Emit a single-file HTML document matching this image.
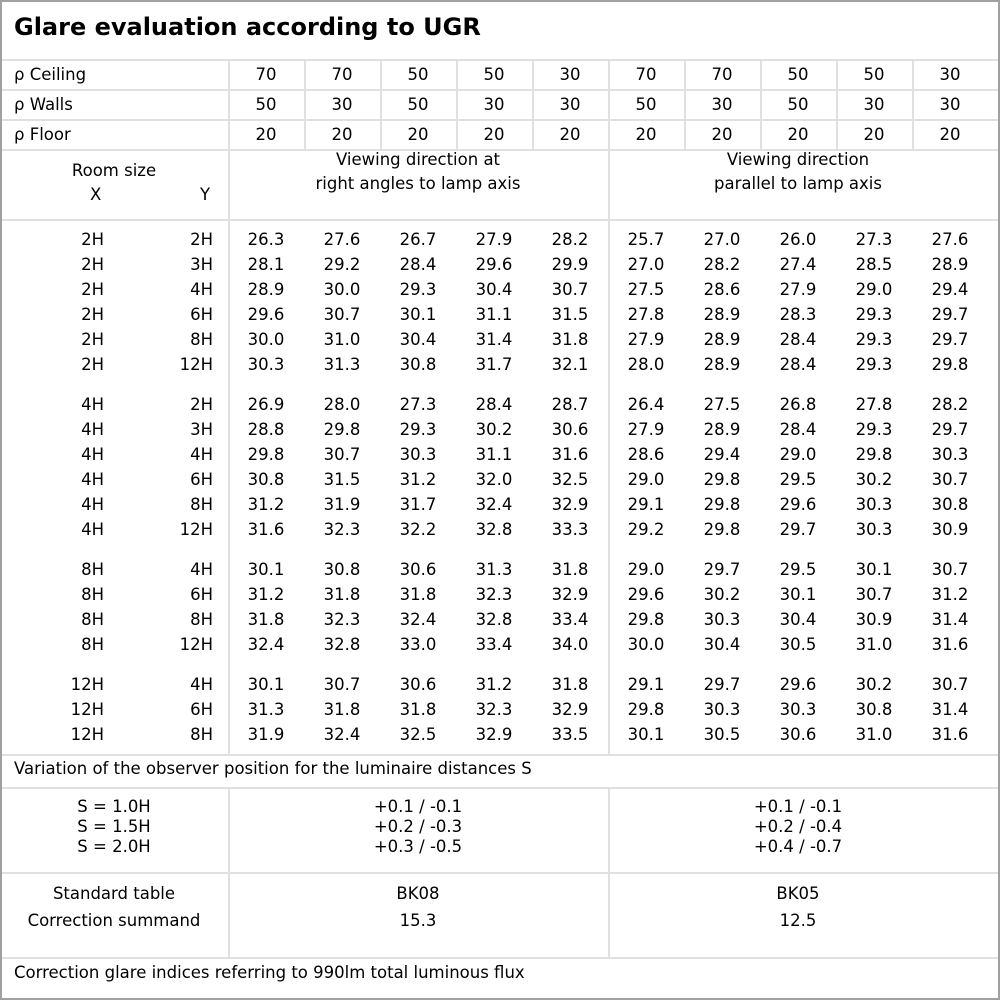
<!DOCTYPE html>
<html><head><meta charset="utf-8"><style>
*{margin:0;padding:0;box-sizing:border-box}
body{width:1000px;height:1000px;background:#fff;position:relative;overflow:hidden;font-family:"DejaVu Sans","Liberation Sans",sans-serif;font-size:16.5px;color:#000}
.a{position:absolute}
.h{position:absolute;height:2px;background:#e0e0e0}
.v{position:absolute;width:2px;background:#e0e0e0}
.r{position:absolute;left:0;height:25px;line-height:25px;white-space:nowrap;display:flex}
.r span{display:inline-block;text-align:center;width:76px}
.r .x{width:104px;text-align:right}
.r .y{width:109px;text-align:right;margin-right:15px}
.r .l{width:228px;text-align:left;padding-left:14px}
.c{position:absolute;text-align:center;line-height:20px}
</style></head><body>
<div class="a" style="left:0;top:0;width:1000px;height:1000px;border:2px solid #a0a0a0;border-right-width:2px"></div>
<div class="a" style="left:14px;top:13px;font-size:24px;font-weight:bold">Glare evaluation according to UGR</div>
<div class="h" style="left:2px;top:59px;width:996px"></div>
<div class="h" style="left:2px;top:89px;width:996px"></div>
<div class="h" style="left:2px;top:119px;width:996px"></div>
<div class="h" style="left:2px;top:149px;width:996px"></div>
<div class="h" style="left:2px;top:219px;width:996px"></div>
<div class="h" style="left:2px;top:754px;width:996px"></div>
<div class="h" style="left:2px;top:787px;width:996px"></div>
<div class="h" style="left:2px;top:872px;width:996px"></div>
<div class="h" style="left:2px;top:957px;width:996px"></div>
<div class="v" style="left:228px;top:60px;height:694px"></div>
<div class="v" style="left:608px;top:60px;height:694px"></div>
<div class="v" style="left:304px;top:60px;height:90px"></div>
<div class="v" style="left:380px;top:60px;height:90px"></div>
<div class="v" style="left:456px;top:60px;height:90px"></div>
<div class="v" style="left:532px;top:60px;height:90px"></div>
<div class="v" style="left:684px;top:60px;height:90px"></div>
<div class="v" style="left:760px;top:60px;height:90px"></div>
<div class="v" style="left:836px;top:60px;height:90px"></div>
<div class="v" style="left:912px;top:60px;height:90px"></div>
<div class="v" style="left:228px;top:788px;height:170px"></div>
<div class="v" style="left:608px;top:788px;height:170px"></div>

<div class="r" style="top:62px"><span class="l">ρ Ceiling</span><span>70</span><span>70</span><span>50</span><span>50</span><span>30</span><span>70</span><span>70</span><span>50</span><span>50</span><span>30</span></div>
<div class="r" style="top:92px"><span class="l">ρ Walls</span><span>50</span><span>30</span><span>50</span><span>30</span><span>30</span><span>50</span><span>30</span><span>50</span><span>30</span><span>30</span></div>
<div class="r" style="top:122px"><span class="l">ρ Floor</span><span>20</span><span>20</span><span>20</span><span>20</span><span>20</span><span>20</span><span>20</span><span>20</span><span>20</span><span>20</span></div>

<div class="c" style="left:0;width:228px;top:159px;line-height:24px">Room size</div>
<div class="a" style="left:90px;top:183px;line-height:24px">X</div>
<div class="a" style="left:200px;top:183px;line-height:24px">Y</div>
<div class="c" style="left:228px;width:380px;top:147px;line-height:24px;padding-top:1px">Viewing direction at<br>right angles to lamp axis</div>
<div class="c" style="left:608px;width:380px;top:147px;line-height:24px;padding-top:1px">Viewing direction<br>parallel to lamp axis</div>

<div class="r" style="top:227px"><span class="x">2H</span><span class="y">2H</span><span>26.3</span><span>27.6</span><span>26.7</span><span>27.9</span><span>28.2</span><span>25.7</span><span>27.0</span><span>26.0</span><span>27.3</span><span>27.6</span></div>
<div class="r" style="top:252px"><span class="x">2H</span><span class="y">3H</span><span>28.1</span><span>29.2</span><span>28.4</span><span>29.6</span><span>29.9</span><span>27.0</span><span>28.2</span><span>27.4</span><span>28.5</span><span>28.9</span></div>
<div class="r" style="top:277px"><span class="x">2H</span><span class="y">4H</span><span>28.9</span><span>30.0</span><span>29.3</span><span>30.4</span><span>30.7</span><span>27.5</span><span>28.6</span><span>27.9</span><span>29.0</span><span>29.4</span></div>
<div class="r" style="top:302px"><span class="x">2H</span><span class="y">6H</span><span>29.6</span><span>30.7</span><span>30.1</span><span>31.1</span><span>31.5</span><span>27.8</span><span>28.9</span><span>28.3</span><span>29.3</span><span>29.7</span></div>
<div class="r" style="top:327px"><span class="x">2H</span><span class="y">8H</span><span>30.0</span><span>31.0</span><span>30.4</span><span>31.4</span><span>31.8</span><span>27.9</span><span>28.9</span><span>28.4</span><span>29.3</span><span>29.7</span></div>
<div class="r" style="top:352px"><span class="x">2H</span><span class="y">12H</span><span>30.3</span><span>31.3</span><span>30.8</span><span>31.7</span><span>32.1</span><span>28.0</span><span>28.9</span><span>28.4</span><span>29.3</span><span>29.8</span></div>

<div class="r" style="top:392px"><span class="x">4H</span><span class="y">2H</span><span>26.9</span><span>28.0</span><span>27.3</span><span>28.4</span><span>28.7</span><span>26.4</span><span>27.5</span><span>26.8</span><span>27.8</span><span>28.2</span></div>
<div class="r" style="top:417px"><span class="x">4H</span><span class="y">3H</span><span>28.8</span><span>29.8</span><span>29.3</span><span>30.2</span><span>30.6</span><span>27.9</span><span>28.9</span><span>28.4</span><span>29.3</span><span>29.7</span></div>
<div class="r" style="top:442px"><span class="x">4H</span><span class="y">4H</span><span>29.8</span><span>30.7</span><span>30.3</span><span>31.1</span><span>31.6</span><span>28.6</span><span>29.4</span><span>29.0</span><span>29.8</span><span>30.3</span></div>
<div class="r" style="top:467px"><span class="x">4H</span><span class="y">6H</span><span>30.8</span><span>31.5</span><span>31.2</span><span>32.0</span><span>32.5</span><span>29.0</span><span>29.8</span><span>29.5</span><span>30.2</span><span>30.7</span></div>
<div class="r" style="top:492px"><span class="x">4H</span><span class="y">8H</span><span>31.2</span><span>31.9</span><span>31.7</span><span>32.4</span><span>32.9</span><span>29.1</span><span>29.8</span><span>29.6</span><span>30.3</span><span>30.8</span></div>
<div class="r" style="top:517px"><span class="x">4H</span><span class="y">12H</span><span>31.6</span><span>32.3</span><span>32.2</span><span>32.8</span><span>33.3</span><span>29.2</span><span>29.8</span><span>29.7</span><span>30.3</span><span>30.9</span></div>

<div class="r" style="top:557px"><span class="x">8H</span><span class="y">4H</span><span>30.1</span><span>30.8</span><span>30.6</span><span>31.3</span><span>31.8</span><span>29.0</span><span>29.7</span><span>29.5</span><span>30.1</span><span>30.7</span></div>
<div class="r" style="top:582px"><span class="x">8H</span><span class="y">6H</span><span>31.2</span><span>31.8</span><span>31.8</span><span>32.3</span><span>32.9</span><span>29.6</span><span>30.2</span><span>30.1</span><span>30.7</span><span>31.2</span></div>
<div class="r" style="top:607px"><span class="x">8H</span><span class="y">8H</span><span>31.8</span><span>32.3</span><span>32.4</span><span>32.8</span><span>33.4</span><span>29.8</span><span>30.3</span><span>30.4</span><span>30.9</span><span>31.4</span></div>
<div class="r" style="top:632px"><span class="x">8H</span><span class="y">12H</span><span>32.4</span><span>32.8</span><span>33.0</span><span>33.4</span><span>34.0</span><span>30.0</span><span>30.4</span><span>30.5</span><span>31.0</span><span>31.6</span></div>

<div class="r" style="top:672px"><span class="x">12H</span><span class="y">4H</span><span>30.1</span><span>30.7</span><span>30.6</span><span>31.2</span><span>31.8</span><span>29.1</span><span>29.7</span><span>29.6</span><span>30.2</span><span>30.7</span></div>
<div class="r" style="top:697px"><span class="x">12H</span><span class="y">6H</span><span>31.3</span><span>31.8</span><span>31.8</span><span>32.3</span><span>32.9</span><span>29.8</span><span>30.3</span><span>30.3</span><span>30.8</span><span>31.4</span></div>
<div class="r" style="top:722px"><span class="x">12H</span><span class="y">8H</span><span>31.9</span><span>32.4</span><span>32.5</span><span>32.9</span><span>33.5</span><span>30.1</span><span>30.5</span><span>30.6</span><span>31.0</span><span>31.6</span></div>

<div class="a" style="left:14px;top:757px;line-height:24px">Variation of the observer position for the luminaire distances S</div>
<div class="c" style="left:0;width:228px;top:797px">S = 1.0H<br>S = 1.5H<br>S = 2.0H</div>
<div class="c" style="left:228px;width:380px;top:797px">+0.1 / -0.1<br>+0.2 / -0.3<br>+0.3 / -0.5</div>
<div class="c" style="left:608px;width:380px;top:797px">+0.1 / -0.1<br>+0.2 / -0.4<br>+0.4 / -0.7</div>
<div class="c" style="left:0;width:228px;top:880px;line-height:27px">Standard table<br>Correction summand</div>
<div class="c" style="left:228px;width:380px;top:880px;line-height:27px">BK08<br>15.3</div>
<div class="c" style="left:608px;width:380px;top:880px;line-height:27px">BK05<br>12.5</div>
<div class="a" style="left:14px;top:961px;line-height:24px">Correction glare indices referring to 990lm total luminous flux</div>
</body></html>
